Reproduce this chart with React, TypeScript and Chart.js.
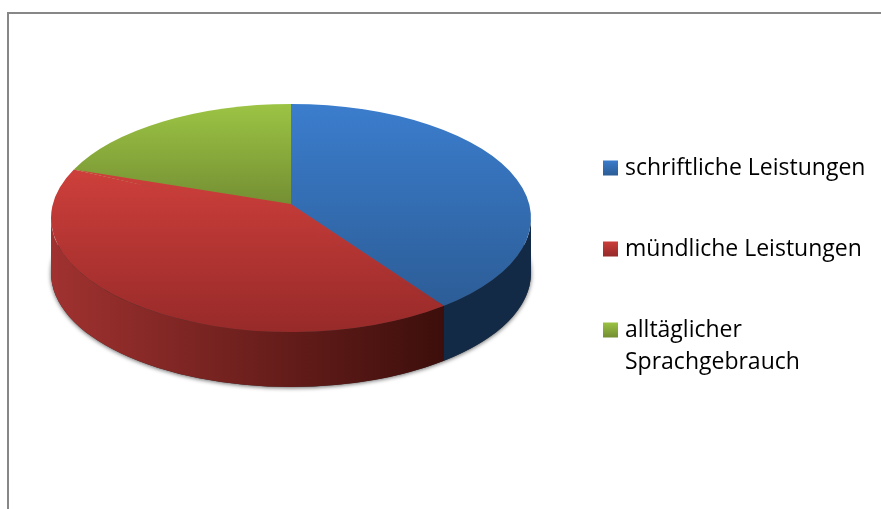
import React, { useEffect, useRef } from "react";
import { Chart, registerables } from "chart.js";

Chart.register(...registerables);

const categories: string[] = ["schriftliche Leistungen", "mündliche Leistungen", "alltäglicher Sprachgebrauch"];
const legendLines: (string | string[])[] = ["schriftliche Leistungen", "mündliche Leistungen", ["alltäglicher", "Sprachgebrauch"]];
const values: number[] = [39, 43, 18];
const topColors: string[] = ["#3b7dcd", "#cd3f3b", "#9cc444"];
const bottomColors: string[] = ["#2c5d97", "#972a29", "#748f33"];
const sliceSpan: [number, number][] = [[-1, 0.76], [-0.41, 1], [-1, -0.12]];
const wallLeft: string[] = ["#14294a", "#a03230", "#14294a"];
const wallRight: string[] = ["#132a47", "#3c0e0b", "#132a47"];
const swatchTop: number[] = [160, 241, 322];

const CX = 291;
const CY = 218;
const RX = 240;
const RY = 114;
const DEPTH = 55;
const APEX_Y = 204;

const pie3d = {
  id: "pie3d",
  afterLayout(chart: any) {
    const l = chart.legend;
    l.left = 549.5;
    l.right = 881;
    l.top = 98.5;
    l.bottom = 509;
  },
  beforeDatasetsDraw(chart: any) {
    const ctx = chart.ctx;
    const arcs = chart.getDatasetMeta(0).data;
    ctx.save();
    ctx.save();
    ctx.shadowColor = "rgba(0,0,0,0.6)";
    ctx.shadowBlur = 4;
    ctx.shadowOffsetY = 1;
    ctx.fillStyle = "#333";
    ctx.beginPath();
    ctx.ellipse(CX, CY + DEPTH, RX, RY, 0, 0, Math.PI * 2);
    ctx.fill();
    ctx.restore();
    arcs.forEach((arc: any, i: number) => {
      const from = Math.max(arc.startAngle, 0);
      const to = Math.min(arc.endAngle, Math.PI);
      if (to <= from) return;
      const g = ctx.createLinearGradient(CX - RX, 0, CX + 154, 0);
      g.addColorStop(0, wallLeft[i]);
      g.addColorStop(1, wallRight[i]);
      ctx.fillStyle = g;
      ctx.beginPath();
      ctx.ellipse(CX, CY, RX, RY, 0, from, to);
      ctx.ellipse(CX, CY + DEPTH, RX, RY, 0, to, from, true);
      ctx.closePath();
      ctx.fill();
    });
    const a = arcs[0];
    ctx.translate(CX, CY);
    ctx.scale(RX / a.outerRadius, RY / a.outerRadius);
    ctx.translate(-a.x, -a.y);
  },
  afterDatasetsDraw(chart: any) {
    const ctx = chart.ctx;
    ctx.restore();
    // Perspective: the slices meet above the ellipse's centre, so the largest slice reaches up to that point.
    const arc = chart.getDatasetMeta(0).data[1];
    const g = ctx.createLinearGradient(0, CY + sliceSpan[1][0] * RY, 0, CY + sliceSpan[1][1] * RY);
    g.addColorStop(0, topColors[1]);
    g.addColorStop(1, bottomColors[1]);
    ctx.save();
    ctx.fillStyle = g;
    ctx.beginPath();
    ctx.moveTo(CX + RX * Math.cos(arc.endAngle), CY + RY * Math.sin(arc.endAngle));
    ctx.lineTo(CX, APEX_Y);
    ctx.lineTo(CX + RX * Math.cos(arc.startAngle), CY + RY * Math.sin(arc.startAngle));
    ctx.lineTo(CX, CY + 1);
    ctx.closePath();
    ctx.fill();
    ctx.restore();
  },
};

function sliceFill(c: any) {
  const i = c.dataIndex;
  const area = c.chart.chartArea;
  if (i === undefined || !area) return topColors[i ?? 0];
  const cy = (area.top + area.bottom) / 2;
  const r = Math.min(area.right - area.left, area.bottom - area.top) / 2;
  const g = c.chart.ctx.createLinearGradient(0, cy + sliceSpan[i][0] * r, 0, cy + sliceSpan[i][1] * r);
  g.addColorStop(0, topColors[i]);
  g.addColorStop(1, bottomColors[i]);
  return g;
}

export default function App() {
  const ref = useRef<HTMLCanvasElement>(null);
  useEffect(() => {
    const canvas = ref.current!;
    const chart = new Chart(canvas, {
      type: "pie",
      data: {
        labels: categories,
        datasets: [{ data: values, backgroundColor: sliceFill as any, borderWidth: 0, clip: false as any }],
      },
      options: {
        animation: false,
        responsive: false,
        layout: { padding: { left: 51, top: 14, bottom: 15 } },
        plugins: {
          tooltip: { enabled: false },
          legend: {
            position: "right",
            align: "start",
            labels: {
              boxWidth: 6,
              boxHeight: 6,
              padding: 58,
              color: "#1c1c1c",
              font: { family: "'Open Sans'", size: 23, lineHeight: 1.39 },
              generateLabels: (ch: any) =>
                legendLines.map((text, i) => {
                  const g = ch.ctx.createLinearGradient(0, swatchTop[i], 0, swatchTop[i] + 15);
                  g.addColorStop(0, topColors[i]);
                  g.addColorStop(1, bottomColors[i]);
                  return { text: text as any, fillStyle: g, strokeStyle: g, lineWidth: 9, index: i, hidden: false };
                }),
            },
          },
        },
      },
      plugins: [pie3d],
    });
    return () => chart.destroy();
  }, []);
  return (
    <div style={{ position: "fixed", left: 0, top: 0, width: 881, height: 509, overflow: "hidden", background: "#fff", filter: "blur(0.4px)" }}>
      <div style={{ position: "absolute", left: 7, top: 12, width: 950, height: 600, border: "2px solid #878787" }} />
      <canvas ref={ref} width={881} height={509} style={{ position: "absolute", left: 0, top: 0, display: "block" }} />
    </div>
  );
}
